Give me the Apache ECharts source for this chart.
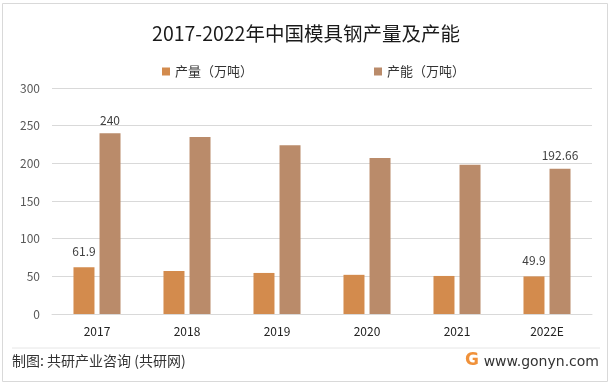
<!DOCTYPE html>
<html>
<head>
<meta charset="utf-8">
<script src="https://cdn.jsdelivr.net/npm/echarts@6/dist/echarts.min.js"></script>
<style>html,body{margin:0;padding:0;background:#fff}#c{width:612px;height:385px}</style>
</head>
<body>
<div id="c"></div>
<script>
var categories = ['2017', '2018', '2019', '2020', '2021', '2022E'];
var production = [61.9, 57, 54.5, 52, 50.5, 49.9];
var capacity = [240, 235, 224, 207, 198, 192.66];
var seriesNames = ['产量（万吨）', '产能（万吨）'];
var yTicks = [0, 50, 100, 150, 200, 250, 300];

var labelIdx = [0, 5];
function withLabels(arr) {
  return arr.map(function (v, i) {
    return labelIdx.indexOf(i) >= 0 ? { value: v, label: { show: true } } : v;
  });
}

var chart = echarts.init(document.getElementById('c'), null, { renderer: 'canvas' });
var font = '"Noto Sans CJK SC", "Noto Sans", sans-serif';
chart.setOption({
  animation: false,
  textStyle: { fontFamily: font },
  title: {
    text: '2017-2022年中国模具钢产量及产能',
    left: 'center', top: 19,
    textStyle: { fontSize: 19.5, fontWeight: 'normal', color: '#1a1a1a', fontFamily: font }
  },
  legend: {
    top: 60, left: 157, itemGap: 121,
    itemWidth: 8, itemHeight: 8, icon: 'rect',
    textStyle: { fontSize: 13, color: '#333', fontFamily: font },
    data: seriesNames
  },
  grid: { left: 52, right: 20, top: 88, bottom: 71, containLabel: false },
  xAxis: {
    type: 'category', data: categories,
    axisLine: { lineStyle: { color: '#d9d9d9' } },
    axisTick: { show: false },
    axisLabel: { fontSize: 12, color: '#222', margin: 11, fontFamily: font }
  },
  yAxis: {
    type: 'value', min: yTicks[0], max: yTicks[yTicks.length - 1], interval: 50,
    axisLine: { show: false }, axisTick: { show: false },
    axisLabel: { fontSize: 12, color: '#595959', margin: 12, fontFamily: font },
    splitLine: { lineStyle: { color: '#d9d9d9' } }
  },
  series: [
    {
      name: seriesNames[0], type: 'bar', data: withLabels(production),
      barWidth: 21, barGap: '24%',
      itemStyle: { color: '#D38B4D' },
      label: { show: false, position: 'top', fontSize: 12, color: '#404040', distance: 10 }
    },
    {
      name: seriesNames[1], type: 'bar', data: withLabels(capacity),
      barWidth: 21,
      itemStyle: { color: '#BA8B6A' },
      label: { show: false, position: 'top', fontSize: 12, color: '#404040', distance: 7 }
    }
  ],
  graphic: [
    { type: 'rect', shape: { x: 2.5, y: 3.5, width: 605, height: 378 }, style: { fill: 'none', stroke: '#d9d9d9', lineWidth: 1 }, silent: true },
    { type: 'line', shape: { x1: 12, y1: 348, x2: 600, y2: 348 }, style: { stroke: '#e6e6e6', lineWidth: 1 } },
    { type: 'text', left: 12, top: 354, style: { text: '制图: 共研产业咨询 (共研网)', fontSize: 14, fill: '#333', fontFamily: font } },
    { type: 'text', left: 465, top: 352, style: { text: 'G', fontSize: 17, fontWeight: 'bold', fill: '#F0913A', fontFamily: 'DejaVu Sans' } },
    { type: 'text', right: 13, top: 355, style: { text: 'www.gonyn.com', fontSize: 14, fill: '#333', fontFamily: 'DejaVu Sans, sans-serif' } }
  ]
});
</script>
</body>
</html>
